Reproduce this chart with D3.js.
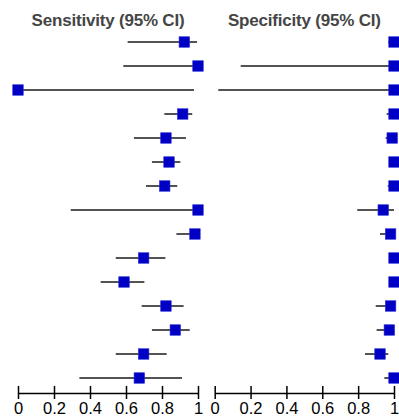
<!DOCTYPE html>
<html><head><meta charset="utf-8">
<script src="https://cdn.jsdelivr.net/npm/d3@7"></script>
<style>body{margin:0;background:#fff}svg{display:block}</style>
</head><body><svg id="c" width="399" height="417"></svg>
<script>
const studies = d3.range(1, 16).map(i => "Study " + i);
const sensEst = [0.924, 1.0, 0.0, 0.915, 0.822, 0.839, 0.815, 1.0, 0.983, 0.698, 0.589, 0.822, 0.874, 0.698, 0.674];
const sensLo  = [0.609, 0.585, 0.0, 0.813, 0.644, 0.744, 0.711, 0.293, 0.880, 0.543, 0.459, 0.687, 0.744, 0.543, 0.341];
const sensHi  = [0.995, 1.0, 0.978, 0.968, 0.933, 0.902, 0.885, 1.0, 1.0, 0.819, 0.702, 0.920, 0.954, 0.826, 0.911];
const specEst = [1.0, 1.0, 1.0, 1.0, 0.99, 1.0, 1.0, 0.94, 0.981, 1.0, 1.0, 0.981, 0.974, 0.922, 1.0];
const specLo  = [0.968, 0.145, 0.02, 0.959, 0.953, 1.0, 0.965, 0.795, 0.922, 1.0, 1.0, 0.898, 0.903, 0.838, 0.946];
const specHi  = [1.0, 1.0, 1.0, 1.0, 1.0, 1.0, 1.0, 1.0, 1.0, 1.0, 1.0, 1.0, 1.0, 0.968, 1.0];
const tickValues = [0, 0.2, 0.4, 0.6, 0.8, 1];
const tickLabels = ["0", "0.2", "0.4", "0.6", "0.8", "1"];
const titles = ["Sensitivity (95% CI)", "Specificity (95% CI)"];

const svg = d3.select("#c");
const y = d3.scaleBand().domain(studies).range([30, 390]);
const panels = [
  {x: d3.scaleLinear().domain([0, 1]).range([18, 198]), est: sensEst, lo: sensLo, hi: sensHi, title: titles[0]},
  {x: d3.scaleLinear().domain([0, 1]).range([214.7, 394]), est: specEst, lo: specLo, hi: specHi, title: titles[1]}
];
const sq = 10.5;
panels.forEach(p => {
  const g = svg.append("g");
  const [a, b] = p.x.range();
  g.append("text").attr("x", (a + b) / 2).attr("y", 26).attr("text-anchor", "middle")
    .attr("font-family", "Liberation Sans, Arial, sans-serif").attr("font-weight", "bold")
    .attr("font-size", 17).attr("fill", "#454545").attr("letter-spacing", "-0.2")
    .text(p.title);
  const cy = i => y(studies[i]) + y.bandwidth() / 2;
  g.selectAll("line.ci").data(studies).join("line").attr("class", "ci")
    .attr("x1", (d, i) => p.x(p.lo[i])).attr("x2", (d, i) => p.x(p.hi[i]))
    .attr("y1", (d, i) => cy(i)).attr("y2", (d, i) => cy(i))
    .attr("stroke", "#1a1a1a").attr("stroke-width", 1.5);
  g.selectAll("rect.pt").data(studies).join("rect").attr("class", "pt")
    .attr("x", (d, i) => p.x(p.est[i]) - sq / 2).attr("y", (d, i) => cy(i) - sq / 2)
    .attr("width", sq).attr("height", sq).attr("fill", "#0000c4")
    .attr("stroke", "#2a2ad8").attr("stroke-width", 0.6);
  const ax = g.append("g").attr("transform", "translate(0,393)")
    .call(d3.axisBottom(p.x).tickValues(tickValues).tickFormat((d, i) => tickLabels[i]).tickSize(0).tickPadding(0));
  ax.select(".domain").attr("stroke", "#000").attr("stroke-width", 1.5);
  ax.selectAll(".tick line").attr("y1", -7).attr("y2", 6).attr("stroke", "#000").attr("stroke-width", 1.5);
  ax.selectAll(".tick text").attr("font-family", "Liberation Sans Narrow, Arial Narrow, sans-serif")
    .attr("font-size", 16.5).attr("fill", "#000").attr("y", 20.5).attr("dy", null);
});
</script></body></html>
